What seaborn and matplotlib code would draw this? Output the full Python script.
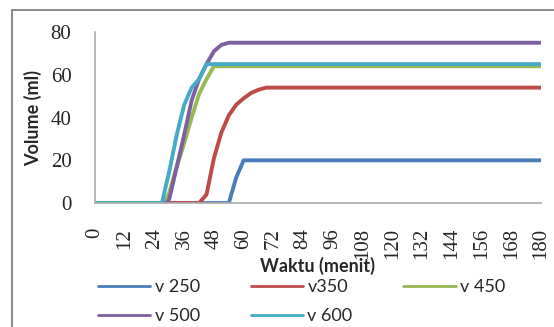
#!/usr/bin/env python3
"""Volume vs time for five flow settings (Excel-style line chart)."""

import matplotlib

matplotlib.use("Agg")
import matplotlib.pyplot as plt
import pandas as pd
import seaborn as sns
from matplotlib.lines import Line2D

# Breakpoints (minutes, ml); each series stays flat to 180.
T_250 = [0, 54, 57, 60, 180]
V_250 = [0, 0, 12, 20, 20]

T_350 = [0, 42, 45, 48, 51, 54, 57, 60, 63, 66, 69, 180]
V_350 = [0, 0, 4, 21, 33, 41, 46, 49, 51.5, 53, 54, 54]

T_450 = [0, 28, 30, 33, 36, 39, 42, 45, 48, 180]
V_450 = [0, 0, 5, 17, 28, 40, 51, 58, 64, 64]

T_500 = [0, 29, 30, 33, 36, 39, 42, 45, 48, 51, 54, 180]
V_500 = [0, 0, 2, 17, 32, 48, 58, 65, 71, 74, 75, 75]

T_600 = [0, 27, 30, 33, 36, 39, 42, 45, 180]
V_600 = [0, 0, 15, 32, 46, 54, 58, 65, 65]

LABELS = ["v 250", "v350", "v 450", "v 500", "v 600"]
COLORS = ["#4A7EBB", "#BE4B48", "#98B954", "#7D60A0", "#46AAC5"]
X_TICKS = list(range(0, 181, 12))
Y_TICKS = [0, 20, 40, 60, 80]

# matplotlib fills legend columns first; this gives Excel's row-wise order.
LEGEND_ORDER = [0, 3, 1, 4, 2]


def build_frame() -> pd.DataFrame:
    parts = []
    for label, t, v in zip(
        LABELS,
        [T_250, T_350, T_450, T_500, T_600],
        [V_250, V_350, V_450, V_500, V_600],
    ):
        parts.append(pd.DataFrame({"waktu": t, "volume": v, "seri": label}))
    return pd.concat(parts, ignore_index=True)


def main() -> None:
    df = build_frame()
    sns.set_style("white")

    fig = plt.figure(figsize=(5.54, 3.27), dpi=100)
    ax = fig.add_axes([0.1715, 0.379, 0.805, 0.523])

    sns.lineplot(
        data=df, x="waktu", y="volume", hue="seri", hue_order=LABELS,
        palette=COLORS, linewidth=2.8, ax=ax, legend=False, sort=False,
    )

    ax.set_xlim(0, 180)
    ax.set_ylim(0, 80)
    ax.set_xticks(X_TICKS)
    ax.set_yticks(Y_TICKS)
    ax.set_xticklabels([str(x) for x in X_TICKS], rotation=90,
                       family="Liberation Serif", fontsize=15)
    ax.set_yticklabels([str(y) for y in Y_TICKS],
                       family="Liberation Serif", fontsize=15)
    ax.tick_params(axis="both", length=0)
    ax.tick_params(axis="y", pad=17)
    ax.tick_params(axis="x", pad=18)

    for side in ("top", "right"):
        ax.spines[side].set_visible(False)
    for side in ("left", "bottom"):
        ax.spines[side].set_color("#ABABAB")
        ax.spines[side].set_linewidth(1.2)

    ax.set_xlabel("Waktu (menit)", family="Lato", fontweight="bold",
                  fontsize=13, labelpad=-2)
    ax.set_ylabel("Volume (ml)", family="Lato", fontweight="bold",
                  fontsize=13, labelpad=6)

    handles = [Line2D([], [], color=COLORS[i], linewidth=2.0) for i in LEGEND_ORDER]
    labels = [LABELS[i] for i in LEGEND_ORDER]
    fig.legend(
        handles, labels, ncol=3, loc="upper left",
        bbox_to_anchor=(0.177, 0.147), frameon=False,
        prop={"family": "Lato", "size": 13},
        handlelength=2.9, handletextpad=0.25, columnspacing=2.8,
        labelspacing=0.75, borderaxespad=0, borderpad=0,
    )

    # Outer chart frame (left and top edges visible in the reference).
    fig.add_artist(Line2D([12 / 554, 12 / 554], [0, 1 - 10 / 327],
                          transform=fig.transFigure, color="#8C8C8C", linewidth=1.5))
    fig.add_artist(Line2D([12 / 554, 1], [1 - 10 / 327, 1 - 10 / 327],
                          transform=fig.transFigure, color="#8C8C8C", linewidth=1.5))

    fig.savefig("out.png", dpi=100)
    plt.close(fig)


if __name__ == "__main__":
    main()
